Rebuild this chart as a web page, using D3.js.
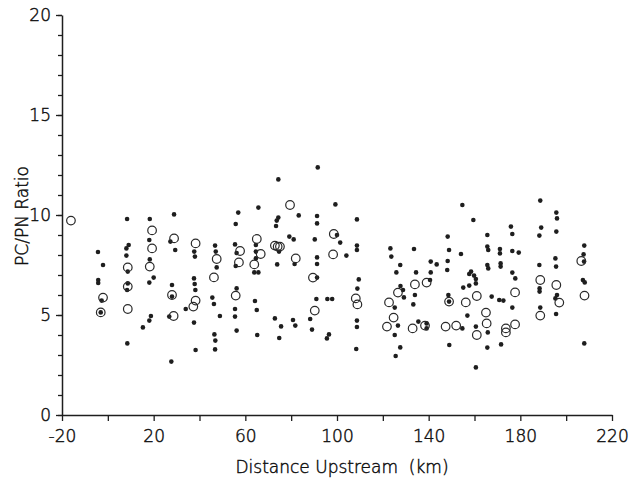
<!DOCTYPE html>
<html>
<head>
<meta charset="utf-8">
<script src="https://cdn.jsdelivr.net/npm/d3@7"></script>
<style>
  html, body { margin: 0; padding: 0; background: #fff; }
  svg { display: block; }
  .tick text, .axis-title { font-family: "DejaVu Sans", sans-serif; font-weight: 200; fill: #111; stroke: #111; stroke-width: 0.45px; }
</style>
</head>
<body>
<svg id="chart" width="639" height="479"></svg>
<script>
// Axis settings
const xDomain = [-20, 220];
const yDomain = [0, 20];
const xTickValues = [-20, 0, 20, 40, 60, 80, 100, 120, 140, 160, 180, 200, 220];
const xLabelValues = [-20, 20, 60, 100, 140, 180, 220];
const yTickValues = [0, 5, 10, 15, 20];
const yMinorTickValues = d3.range(0, 21, 1);
const xTitle = "Distance Upstream  (km)";
const yTitle = "PC/PN Ratio";

// Individual samples: [distance upstream (km), PC/PN ratio]
const sampleRatios = [
  [-4.3, 8.15], [-2.1, 7.5], [-4.2, 6.75], [-4.2, 6.6], [-2.7, 5.72], [-3.1, 5.13],
  [8.4, 9.8], [9.1, 8.5], [8.1, 8.33], [8.1, 7.97], [8.7, 7.17], [8.7, 6.58], [8.4, 6.25], [8.5, 3.58],
  [18.3, 9.8], [18.1, 8.75], [18.3, 7.78], [20.0, 6.87], [18.1, 6.62], [18.8, 4.95], [18.1, 4.72], [15.3, 4.38],
  [28.9, 10.03], [27.3, 8.67], [29.4, 8.25], [28.0, 6.5], [28.0, 5.92], [26.8, 4.92], [27.7, 2.67],
  [37.7, 8.17], [38.0, 7.92], [37.6, 6.83], [37.9, 6.55], [38.2, 6.25], [34.0, 5.3], [37.6, 4.62], [38.3, 3.25],
  [46.8, 8.47], [47.1, 8.17], [47.5, 7.38], [45.6, 5.87], [46.3, 5.55], [48.9, 4.95], [46.5, 4.03], [46.9, 3.72], [46.8, 3.28],
  [56.9, 10.12], [55.8, 9.55], [55.5, 8.53], [56.2, 8.1], [55.8, 7.45], [56.2, 6.33], [55.5, 5.3], [55.5, 4.92], [56.2, 4.22],
  [65.7, 10.37], [64.6, 8.5], [64.6, 8.17], [64.6, 7.83], [63.9, 7.13], [65.7, 7.13], [64.2, 5.7], [65.0, 5.25], [65.2, 4.0],
  [74.4, 11.78], [74.4, 9.87], [73.7, 9.72], [73.4, 9.45], [74.7, 8.17], [73.9, 7.53], [72.9, 4.83], [75.6, 4.43], [74.8, 3.85],
  [79.2, 8.92], [83.3, 9.98], [81.1, 8.78], [81.5, 7.55], [80.8, 4.75], [81.8, 4.47],
  [91.6, 12.38], [91.3, 9.95], [91.3, 9.58], [90.3, 8.78], [91.3, 7.88], [91.3, 7.55], [91.3, 6.87], [91.0, 5.8], [88.3, 4.8], [89.1, 4.27],
  [99.3, 10.53], [100.0, 9.0], [101.4, 8.62], [104.1, 7.97], [95.8, 5.8], [97.9, 5.8], [96.5, 4.03], [95.6, 3.83],
  [108.7, 9.78], [108.7, 8.47], [108.7, 8.25], [109.5, 6.78], [108.9, 6.32], [108.7, 4.72], [108.7, 4.4], [108.4, 3.3],
  [123.3, 8.33], [123.7, 7.92], [127.6, 7.5], [125.9, 7.13], [127.7, 6.45], [128.8, 6.25], [129.2, 5.88],
  [125.2, 5.37], [126.6, 4.47], [125.2, 4.0], [127.6, 3.38], [125.6, 2.95],
  [133.6, 8.3], [134.5, 7.13], [134.0, 6.0], [133.3, 5.53], [135.5, 4.67], [139.1, 4.58], [139.1, 4.33],
  [140.9, 7.67], [143.5, 7.53], [140.9, 7.13], [140.6, 6.75],
  [148.3, 8.92], [148.9, 8.25], [148.3, 7.7], [148.1, 7.25], [148.6, 6.0], [148.9, 5.67], [149.0, 3.5],
  [154.7, 10.5], [159.5, 9.75], [154.1, 8.05], [158.5, 7.17], [157.7, 7.05], [159.8, 6.97], [160.6, 6.8],
  [155.1, 6.37], [157.7, 6.47], [160.6, 6.58], [154.7, 4.33], [156.9, 4.97], [160.6, 4.42], [160.6, 2.38],
  [165.6, 9.0], [165.6, 8.42], [166.0, 8.25], [165.6, 7.5], [166.0, 7.33], [167.5, 5.92], [165.8, 4.13], [165.6, 3.37],
  [171.1, 8.3], [171.1, 8.08], [171.4, 7.58], [171.4, 7.42], [170.8, 5.75], [172.6, 5.72], [171.6, 3.53],
  [175.9, 9.42], [176.5, 9.05], [176.5, 8.2], [179.3, 8.12], [176.5, 7.12], [177.8, 6.83], [176.5, 5.37],
  [188.7, 10.72], [189.1, 9.37], [188.3, 8.97], [188.3, 7.5], [188.4, 6.33], [188.4, 6.17], [188.7, 5.37],
  [195.7, 10.12], [196.0, 9.83], [195.7, 9.17], [195.3, 7.83], [195.6, 7.42], [196.0, 6.0], [195.3, 5.83], [195.6, 5.05],
  [207.9, 8.47], [207.6, 8.03], [207.8, 7.67], [207.3, 6.75], [208.1, 6.63], [207.9, 3.58]
];

// Station values drawn as open circles: [distance upstream (km), PC/PN ratio]
const stationRatios = [
  [-16.1, 9.72], [-2.1, 5.87], [-3.1, 5.13],
  [8.7, 7.38], [8.7, 6.42], [8.7, 5.3],
  [19.3, 9.23], [19.3, 8.33], [18.3, 7.42],
  [28.9, 8.83], [28.0, 6.0], [28.7, 4.95],
  [38.3, 8.58], [38.3, 5.72], [37.3, 5.42],
  [47.5, 7.8], [46.3, 6.88],
  [57.7, 8.2], [57.2, 7.63], [55.8, 5.97],
  [65.0, 8.8], [66.7, 8.05], [63.9, 7.53],
  [72.9, 8.47], [74.1, 8.42], [75.1, 8.42],
  [79.5, 10.5], [82.0, 7.83],
  [89.5, 6.87], [90.3, 5.22],
  [98.6, 9.05], [98.3, 8.03],
  [108.2, 5.83], [108.9, 5.53],
  [126.6, 6.12], [122.7, 5.63], [124.7, 4.87], [121.8, 4.42],
  [134.0, 6.53], [139.1, 6.62], [133.0, 4.33], [138.4, 4.47],
  [148.9, 5.67], [147.4, 4.42],
  [156.2, 5.63], [161.0, 5.95], [152.0, 4.47], [161.0, 4.0],
  [165.0, 5.12], [165.3, 4.58],
  [177.7, 6.13], [173.7, 4.33], [173.7, 4.13], [177.7, 4.53],
  [188.7, 6.75], [188.7, 4.97],
  [195.7, 6.5], [197.0, 5.62],
  [206.6, 7.7], [208.0, 5.97]
];

const ink = "#1e1e1e";
const labelFont = "DejaVu Sans, sans-serif";
const svg = d3.select("#chart");

const x = d3.scaleLinear().domain(xDomain).range([62, 612]);
const y = d3.scaleLinear().domain(yDomain).range([415, 15]);

// Minor ticks on the ratio axis
svg.append("g")
  .attr("transform", `translate(${x(xDomain[0])},0)`)
  .call(d3.axisLeft(y).tickValues(yMinorTickValues).tickSize(4).tickSizeOuter(0).tickFormat(""))
  .call(g => g.select(".domain").remove())
  .call(g => g.selectAll(".tick line").attr("stroke", ink).attr("stroke-width", 1.3));

// Ratio axis
svg.append("g")
  .attr("transform", `translate(${x(xDomain[0])},0)`)
  .call(d3.axisLeft(y).tickValues(yTickValues).tickSize(6).tickSizeOuter(0).tickPadding(5).tickFormat(d => String(d)))
  .call(g => g.select(".domain").attr("stroke", ink).attr("stroke-width", 1.5))
  .call(g => g.selectAll(".tick line").attr("stroke", ink).attr("stroke-width", 1.3))
  .call(g => g.selectAll(".tick text").attr("font-size", 17).attr("font-family", labelFont));

// Distance axis
svg.append("g")
  .attr("transform", `translate(0,${y(yDomain[0])})`)
  .call(d3.axisBottom(x).tickValues(xTickValues).tickSize(6).tickSizeOuter(0).tickPadding(9)
    .tickFormat(d => xLabelValues.includes(d) ? String(d) : ""))
  .call(g => g.select(".domain").attr("stroke", ink).attr("stroke-width", 1.5))
  .call(g => g.selectAll(".tick line").attr("stroke", ink).attr("stroke-width", 1.3))
  .call(g => g.selectAll(".tick text").attr("font-size", 17).attr("font-family", labelFont));

// Axis titles
svg.append("text")
  .attr("class", "axis-title")
  .attr("x", 342).attr("y", 473)
  .attr("text-anchor", "middle")
  .attr("font-size", 17)
  .style("white-space", "pre")
  .text(xTitle);

svg.append("text")
  .attr("class", "axis-title")
  .attr("transform", "translate(28,216) rotate(-90)")
  .attr("text-anchor", "middle")
  .attr("font-size", 17)
  .text(yTitle);

// Sample points
svg.append("g")
  .selectAll("circle")
  .data(sampleRatios)
  .join("circle")
  .attr("cx", d => x(d[0]))
  .attr("cy", d => y(d[1]))
  .attr("r", 2.3)
  .attr("fill", ink);

// Station circles
svg.append("g")
  .selectAll("circle")
  .data(stationRatios)
  .join("circle")
  .attr("cx", d => x(d[0]))
  .attr("cy", d => y(d[1]))
  .attr("r", 4.3)
  .attr("fill", "none")
  .attr("stroke", "#2a2a2a")
  .attr("stroke-width", 1.2);
</script>
</body>
</html>
